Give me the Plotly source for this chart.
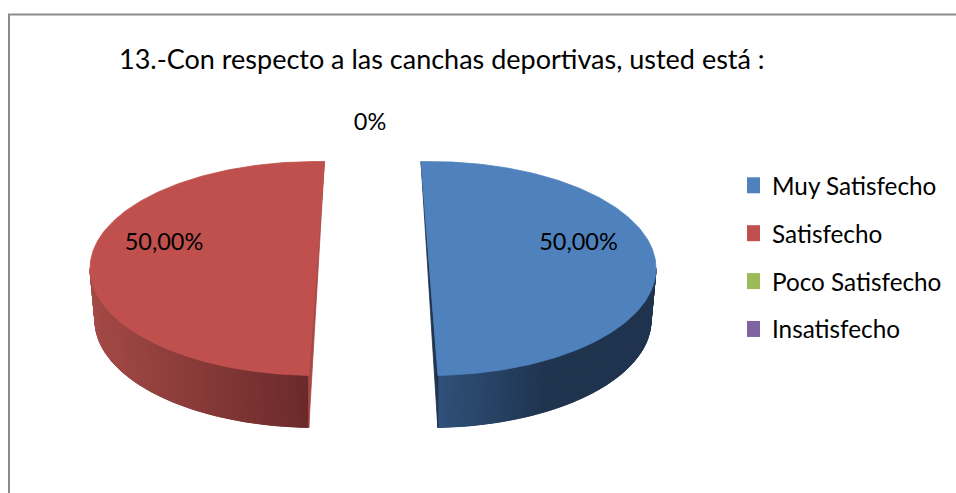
import numpy as np
import plotly.graph_objects as go

categories = ["Muy Satisfecho", "Satisfecho", "Poco Satisfecho", "Insatisfecho"]
values = [50.0, 50.0, 0.0, 0.0]
slice_labels = ["50,00%", "50,00%", "0%"]
title = "13.-Con respecto a las canchas deportivas, usted está :"

colors = ["#4f81bd", "#c0504d", "#9bbb59", "#8064a2"]
side_from = ["#30507a", "#6a2a2a"]
side_to = ["#1f344f", "#a44a46"]
cut_face = ["#1f344f", "#a84845"]

FONT = "Lato"
W, H = 956, 493

# pie geometry, in picture pixels
centers = [(429.5, 268.5), (316.5, 268.5)]
tilt = [-2.15, 2.0]
rx, ry = 226.5, 107.0
rx_low, depth = 221.5, 52.0
n_strips = 90


def rim(cx, cy, a, b, theta):
    t = np.radians(theta)
    return cx + a * np.sin(t), cy - b * np.cos(t)


def mix(c1, c2, f):
    p = [int(c1[i:i + 2], 16) for i in (1, 3, 5)]
    q = [int(c2[i:i + 2], 16) for i in (1, 3, 5)]
    return "rgb(%d,%d,%d)" % tuple(round(p[i] + (q[i] - p[i]) * f) for i in range(3))


def poly(xs, ys, color):
    return go.Scatter(x=xs, y=ys, mode="lines", fill="toself", fillcolor=color,
                      line=dict(color=color, width=0.8), hoverinfo="skip", showlegend=False)


fig = go.Figure()

total = sum(values)
start = 0.0
for i, v in enumerate(values):
    sweep = v / total * 360
    if v == 0:
        start += sweep
        continue
    th0 = start + tilt[i]
    th1 = th0 + sweep
    cx, cy = centers[i]

    # visible part of the outer wall is the part facing down (90..270 deg)
    lo, hi = max(th0, 90), min(th1, 270)
    edges = np.linspace(lo, hi, n_strips + 1)
    x_far = rim(cx, cy, rx, ry, 90 if i == 0 else 270)[0]
    tip_x = rim(cx, cy, rx, ry, th1 if i == 0 else th0)[0]

    # solid backing so the strips leave no seams
    xt, yt = rim(cx, cy, rx, ry, edges)
    xb, yb = rim(cx, cy + depth, rx_low, ry, edges)
    fig.add_trace(poly(list(xt) + list(xb[::-1]), list(yt) + list(yb[::-1]),
                       mix(side_from[i], side_to[i], 0.5)))
    for a0, a1 in zip(edges[:-1], edges[1:]):
        xt0, yt0 = rim(cx, cy, rx, ry, a0)
        xt1, yt1 = rim(cx, cy, rx, ry, a1)
        xb0, yb0 = rim(cx, cy + depth, rx_low, ry, a0)
        xb1, yb1 = rim(cx, cy + depth, rx_low, ry, a1)
        # shading runs from the cut edge to halfway out on blue, all the way on red
        f = abs((xt0 + xt1) / 2 - tip_x) / abs(x_far - tip_x)
        f = min(f / 0.5, 1) if i == 0 else f
        fig.add_trace(poly([xt0, xt1, xb1, xb0, xt0], [yt0, yt1, yb1, yb0, yt0],
                           mix(side_from[i], side_to[i], f)))

    # cut face, seen as a thin sliver along the straight edge
    xa, ya = rim(cx, cy, rx, ry, th0 if i == 0 else th1)
    xc, yc = rim(cx, cy, rx, ry, th1 if i == 0 else th0)
    xd, yd = rim(cx, cy + depth, rx_low, ry, th1 if i == 0 else th0)
    fig.add_trace(poly([xa, xc, xd, xa], [ya, yc, yd, ya], cut_face[i]))

    # top face
    arc = np.linspace(th0, th1, 200)
    xs, ys = rim(cx, cy, rx, ry, arc)
    fig.add_trace(poly(list(xs) + [xs[0]], list(ys) + [ys[0]], colors[i]))
    start += sweep

# slice labels
fig.add_trace(go.Scatter(x=[578.5, 164, 370], y=[244.5, 244.5, 124], mode="text", text=slice_labels,
                         textposition="middle center", textfont=dict(family=FONT, size=23.5, color="black"),
                         hoverinfo="skip", showlegend=False))

# legend entries
for name, c in zip(categories, colors):
    fig.add_trace(go.Scatter(x=[None], y=[None], mode="markers", name=name, legendgroup=name,
                             marker=dict(symbol="square", size=16, color=c)))

fig.update_layout(
    width=W, height=H,
    margin=dict(l=0, r=0, t=0, b=0),
    paper_bgcolor="white", plot_bgcolor="white",
    title=dict(text=title, x=119 / W, xanchor="left", xref="paper", y=1 - 60 / H, yanchor="middle",
               font=dict(family=FONT, size=27, color="black")),
    legend=dict(x=747 / W, xanchor="left", y=1 - 163 / H, yanchor="top", font=dict(family=FONT, size=24.3, color="black"),
                tracegroupgap=13.3, indentation=-15, bgcolor="rgba(0,0,0,0)"),
    shapes=[dict(type="rect", x0=9, y0=14.5, x1=975, y1=515, line=dict(color="#8c8c8c", width=2))],
)
fig.update_xaxes(range=[0, W], visible=False, fixedrange=True)
fig.update_yaxes(range=[H, 0], visible=False, fixedrange=True)

# the page's default 8px body margin would push everything off the picture
fig.write_html("out.html", config=dict(displayModeBar=False), post_script="document.body.style.margin='0';")
